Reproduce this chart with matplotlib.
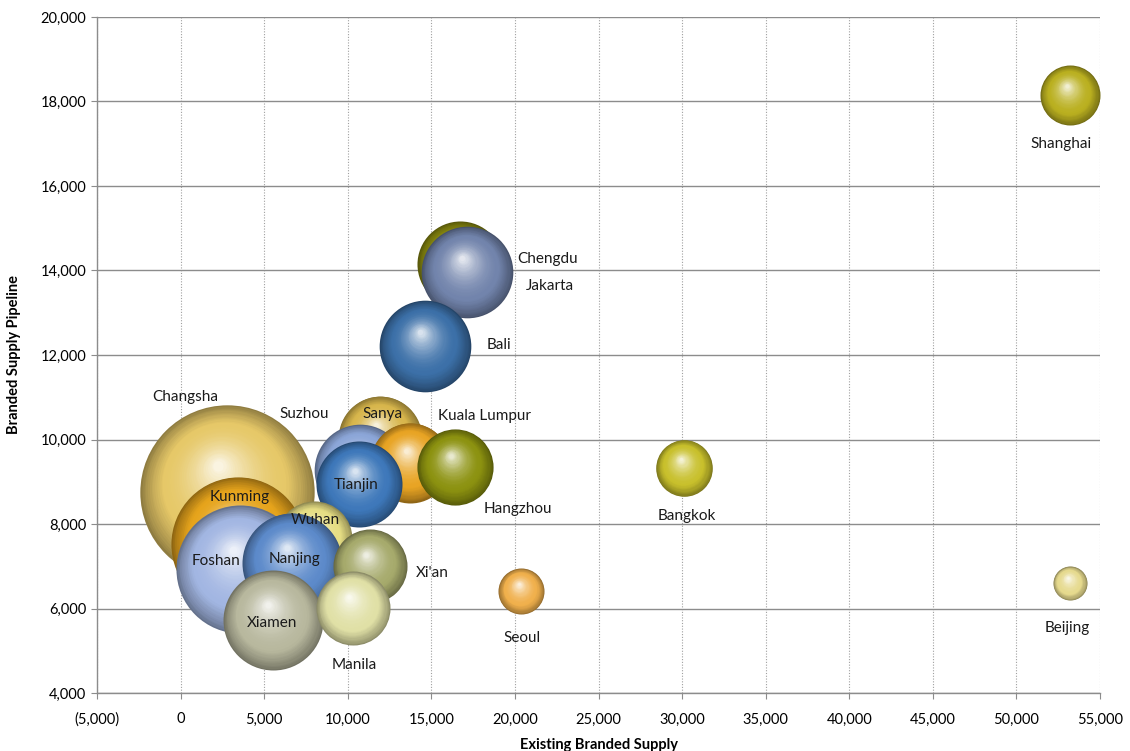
import numpy as np
import matplotlib
matplotlib.use("Agg")
import matplotlib.pyplot as plt
from matplotlib.ticker import FuncFormatter, MultipleLocator
from matplotlib.transforms import offset_copy
from matplotlib.colors import to_rgb

# data (back-to-front drawing order)
cities = ["Changsha", "Kunming", "Chengdu", "Jakarta", "Bali", "Sanya", "Suzhou",
          "Kuala Lumpur", "Tianjin", "Hangzhou", "Wuhan", "Foshan", "Nanjing",
          "Xi'an", "Xiamen", "Manila", "Shanghai", "Bangkok", "Seoul", "Beijing"]
existing = [2780, 3430, 16710, 17130, 14620, 11930, 10730,
            13750, 10680, 16410, 7980, 3550, 6660,
            11330, 5530, 10310, 53190, 30110, 20370, 53190]
pipeline = [8760, 7530, 14150, 13960, 12210, 10040, 9280,
            9450, 8950, 9350, 7640, 6930, 7080,
            7010, 5730, 6010, 18150, 9330, 6410, 6600]
bubble = [7600, 4500, 1850, 2100, 2100, 1750, 2100,
          1600, 1850, 1450, 1450, 4100, 2500,
          1370, 2500, 1370, 900, 800, 530, 290]

colors = ["#E6C868", "#E6A41C", "#8C8C10", "#7284AC", "#3C70A8", "#D8B64C", "#8CA6D8",
          "#E8A424", "#3E78BA", "#8C9210", "#E6DE84", "#A2B6E2", "#5C8ACA",
          "#A6AA6C", "#B8B89E", "#E0E0A6", "#BAB020", "#C8C02C", "#F0B04C", "#E6DA8E"]

# label offsets in points (dx, dy) from bubble centre
label_off = [(-30, 68), (1, 34), (63, 4), (60, -10), (53, 1), (2, 17), (-40, 40),
             (53, 34), (-2, -1), (45, -30), (1, 14), (-17, 6), (2, 3),
             (45, -5), (-1, -2), (1, -41), (-6, -35), (2, -35), (1, -34), (-2, -32)]

plt.rcParams['font.family'] = ['Lato', 'DejaVu Sans']

fig = plt.figure(figsize=(11.3, 7.51), dpi=100)
ax = fig.add_axes([0.0858, 0.0772, 0.8877, 0.9002])
ax.set_xlim(-5000, 55000)
ax.set_ylim(4000, 20000)

ax.xaxis.set_major_locator(MultipleLocator(5000))
ax.yaxis.set_major_locator(MultipleLocator(2000))


def fmt(v, pos):
    if v < 0:
        return "({:,.0f})".format(-v)
    return "{:,.0f}".format(v)


ax.xaxis.set_major_formatter(FuncFormatter(fmt))
ax.yaxis.set_major_formatter(FuncFormatter(fmt))

ax.grid(axis='y', color='#8c8c8c', lw=1.0, ls='-', zorder=0)
ax.grid(axis='x', color='#a0a0a0', lw=0.8, ls=(0, (1, 1.5)), zorder=0)
ax.set_axisbelow(True)
for s in ['top', 'right']:
    ax.spines[s].set_visible(False)
for s in ['left', 'bottom']:
    ax.spines[s].set_color('#8c8c8c')
    ax.spines[s].set_linewidth(1.0)
ax.tick_params(colors='#8c8c8c', labelcolor='#000000', labelsize=10.5, length=4)
ax.tick_params(axis='x', pad=10)

ax.set_xlabel("Existing Branded Supply", fontsize=10.5, fontweight='bold', labelpad=8)
ax.set_ylabel("Branded Supply Pipeline", fontsize=10.5, fontweight='bold', labelpad=14)

n_layers = 40
for i, (x, y, b, c) in enumerate(zip(existing, pipeline, bubble, colors)):
    r_px = np.sqrt(b)
    d_pt = 2 * r_px * 0.72
    base = np.array(to_rgb(c))
    dark = base * 0.62
    light = base + (1 - base) * 0.8
    for k in range(n_layers):
        t = k / (n_layers - 1)
        scale = 1 - 0.94 * t
        # highlight centre shifted up-left
        dx = -0.10 * d_pt / 2 * t
        dy = 0.30 * d_pt / 2 * t
        if t < 0.3:
            u = t / 0.3
            col = dark + (base - dark) * (u ** 0.8)
        else:
            u = (t - 0.3) / 0.7
            col = base + (light - base) * (u ** 1.8)
        tr = offset_copy(ax.transData, fig=fig, x=dx, y=dy, units='points')
        ax.plot([x], [y], 'o', ms=d_pt * scale, mfc=np.clip(col, 0, 1), mec='none',
                transform=tr, zorder=2 + i + k * 0.001, clip_on=False)

for i, (name, x, y) in enumerate(zip(cities, existing, pipeline)):
    ax.annotate(name, (x, y), xytext=label_off[i], textcoords='offset points',
                ha='center', va='center', fontsize=11, color='#1a1a1a', zorder=50)

fig.savefig("out.png", dpi=100)
